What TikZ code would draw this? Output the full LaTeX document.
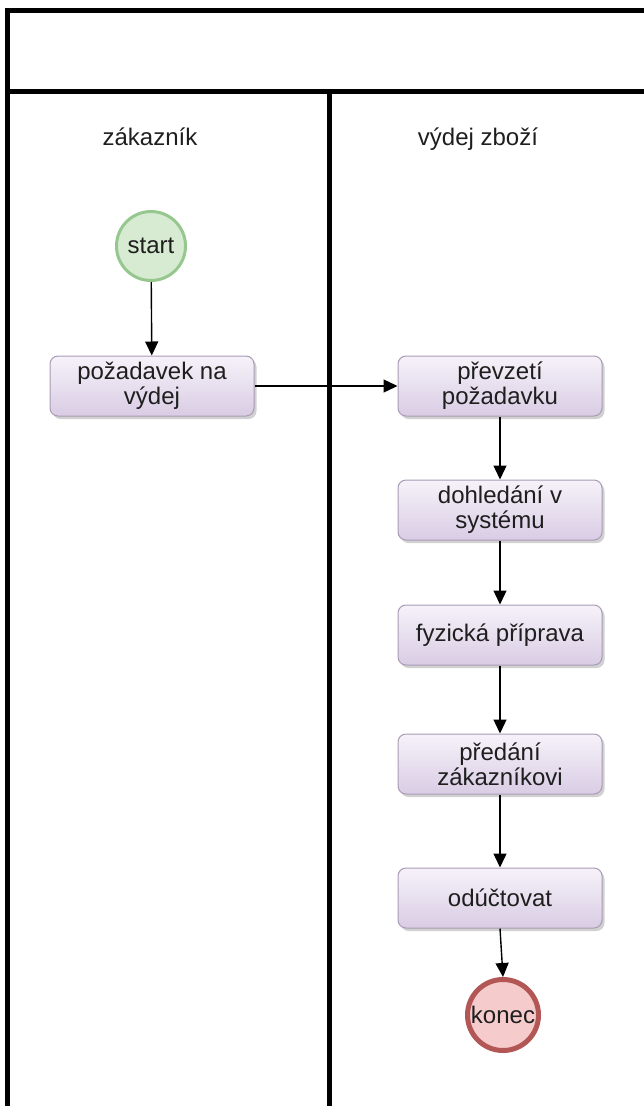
\documentclass[tikz,border=0pt]{standalone}
\usepackage{fontspec}
\setmainfont{Liberation Sans}
\usetikzlibrary{arrows.meta,shadows}

\definecolor{ink}{HTML}{1E1E1E}
\definecolor{actTop}{HTML}{F6F2F9}
\definecolor{actBot}{HTML}{D9CCE4}
\definecolor{actLine}{HTML}{A99BB5}
\definecolor{startFill}{HTML}{D7EBD3}
\definecolor{startLine}{HTML}{96C78E}
\definecolor{endFill}{HTML}{F6CBCB}
\definecolor{endLine}{HTML}{B35656}

\tikzset{
  lane/.style={line width=5pt, black},
  txt/.style={font=\fontsize{24}{25}\selectfont, text=ink},
  activity/.style={txt, rectangle, rounded corners=8pt, draw=actLine, line width=1pt,
    top color=actTop, bottom color=actBot, minimum width=204pt, minimum height=60pt,
    align=center, inner sep=2pt,
    drop shadow={shadow xshift=2.5pt, shadow yshift=-3pt, opacity=0.3, fill=black!60}},
  startev/.style={txt, circle, draw=startLine, line width=3pt, fill=startFill,
    minimum size=69pt, inner sep=0pt},
  endev/.style={txt, circle, draw=endLine, line width=5pt, fill=endFill,
    minimum size=71pt, inner sep=0pt},
  flow/.style={-{Triangle[length=14pt,width=13pt]}, line width=1.4pt, black},
  title/.style={txt, anchor=base}
}

\begin{document}
\begin{tikzpicture}[x=1pt,y=-1pt]
  \useasboundingbox (0,0) rectangle (644,1106);

  % pool frame and lanes
  \draw[lane] (7.5,1110) -- (7.5,10.5) -- (650,10.5);
  \draw[lane] (7.5,91) -- (650,91);
  \draw[lane] (329.5,91) -- (329.5,1110);

  % lane titles
  \node[title] (lanecust) at (150,145) {zákazník};
  \node[title] (laneissue) at (478,145) {výdej zboží};

  % events and activities
  \node[startev] (start) at (151,246) {start};
  \node[activity] (request) at (152,386) {požadavek na\\výdej};
  \node[activity] (take) at (500,386) {převzetí\\požadavku};
  \node[activity] (lookup) at (500,510) {dohledání v\\systému};
  \node[activity] (prepare) at (500,635) {fyzická příprava};
  \node[activity] (handover) at (500,764) {předání\\zákazníkovi};
  \node[activity] (bill) at (500,898) {odúčtovat};
  \node[endev] (finish) at (503,1015) {konec};

  % sequence flows
  \draw[flow] (start) -- (request);
  \draw[flow] (request.east) -- (take.west);
  \draw[flow] (take) -- (lookup);
  \draw[flow] (lookup) -- (prepare);
  \draw[flow] (prepare) -- (handover);
  \draw[flow] (handover) -- (bill);
  \draw[flow] (bill.south) -- (finish.north);
\end{tikzpicture}
\end{document}
